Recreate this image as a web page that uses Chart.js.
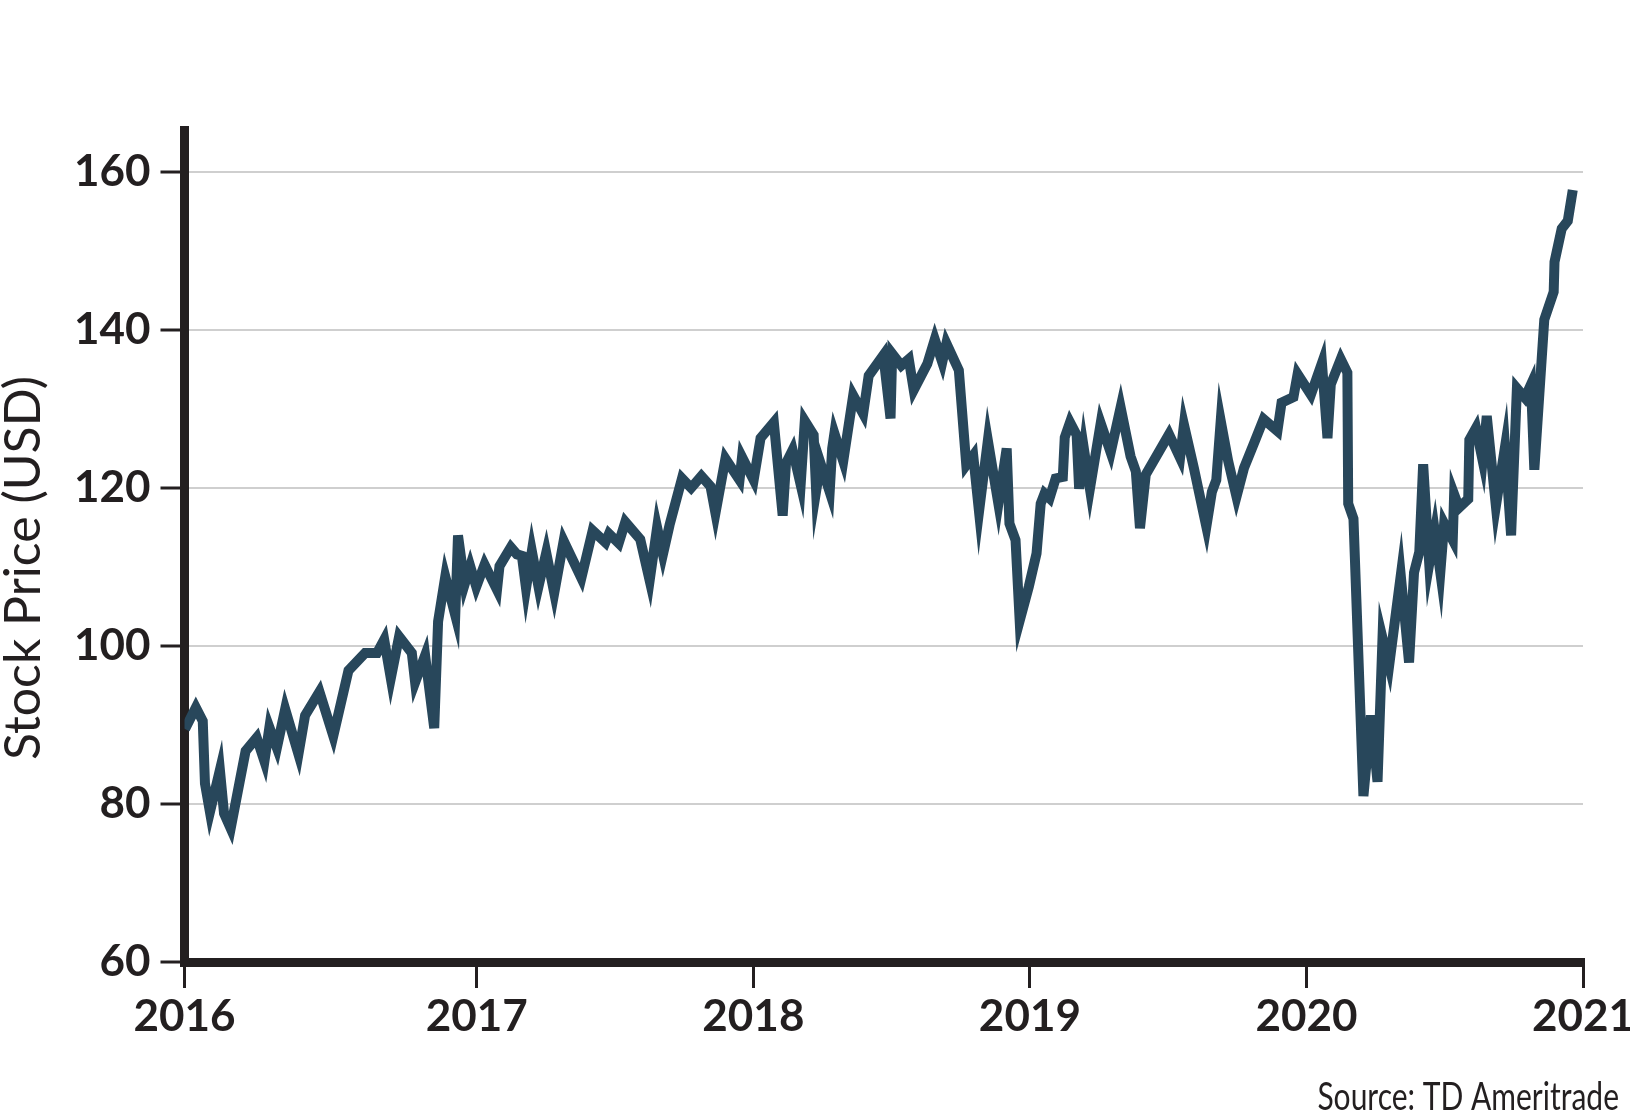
<!DOCTYPE html>
<html>
<head>
<meta charset="utf-8">
<title>Stock Price (USD)</title>
<script src="https://cdn.jsdelivr.net/npm/chart.js@4.4.1/dist/chart.umd.min.js"></script>
<style>
    html, body { margin: 0; padding: 0; background: #ffffff; }
    #wrap { position: relative; width: 1630px; height: 1114px; }
</style>
</head>
<body>
<div id="wrap"><canvas id="priceChart"></canvas></div>
<script>
/**
 * Weekly stock price, 2016 - 2020 (Source: TD Ameritrade)
 */

// Turning points of the price line (decimal years)
const weekDates = [
    2015.945, 2015.984, 2016.009, 2016.017, 2016.035, 2016.071, 2016.086, 2016.110, 2016.144, 2016.164,
    2016.204, 2016.232, 2016.250, 2016.277, 2016.307, 2016.355, 2016.379, 2016.431, 2016.481, 2016.536,
    2016.596, 2016.639, 2016.665, 2016.689, 2016.719, 2016.765, 2016.777, 2016.813, 2016.846, 2016.860,
    2016.886, 2016.922, 2016.932, 2016.956, 2016.976, 2016.998, 2017.028, 2017.073, 2017.082, 2017.123,
    2017.145, 2017.163, 2017.178, 2017.199, 2017.223, 2017.251, 2017.280, 2017.314, 2017.378, 2017.419,
    2017.465, 2017.478, 2017.513, 2017.537, 2017.591, 2017.625, 2017.652, 2017.673, 2017.697, 2017.742,
    2017.775, 2017.812, 2017.845, 2017.863, 2017.899, 2017.950, 2017.959, 2018.001, 2018.026, 2018.074,
    2018.106, 2018.118, 2018.142, 2018.171, 2018.186, 2018.218, 2018.227, 2018.243, 2018.276, 2018.285,
    2018.293, 2018.325, 2018.361, 2018.397, 2018.417, 2018.470, 2018.496, 2018.502, 2018.535, 2018.562,
    2018.580, 2018.629, 2018.656, 2018.683, 2018.698, 2018.743, 2018.770, 2018.795, 2018.816, 2018.848,
    2018.886, 2018.916, 2018.926, 2018.948, 2018.963, 2018.996, 2019.024, 2019.039, 2019.053, 2019.071,
    2019.093, 2019.119, 2019.126, 2019.145, 2019.169, 2019.178, 2019.195, 2019.217, 2019.256, 2019.292,
    2019.328, 2019.364, 2019.383, 2019.398, 2019.419, 2019.503, 2019.543, 2019.557, 2019.593, 2019.638,
    2019.658, 2019.674, 2019.690, 2019.717, 2019.747, 2019.774, 2019.813, 2019.845, 2019.895, 2019.910,
    2019.953, 2019.968, 2020.016, 2020.056, 2020.076, 2020.088, 2020.124, 2020.148, 2020.151, 2020.170,
    2020.206, 2020.233, 2020.257, 2020.275, 2020.299, 2020.341, 2020.371, 2020.389, 2020.408, 2020.422,
    2020.444, 2020.464, 2020.484, 2020.498, 2020.529, 2020.534, 2020.552, 2020.585, 2020.589, 2020.613,
    2020.637, 2020.652, 2020.685, 2020.718, 2020.740, 2020.761, 2020.790, 2020.812, 2020.824, 2020.860,
    2020.894, 2020.897, 2020.923, 2020.945, 2020.963
];

// Price in USD at each of those dates
const prices = [
    89.5, 92.2, 90.5, 82.6, 79.0, 84.3, 78.8, 76.9, 83.1, 86.7,
    88.4, 85.4, 89.7, 87.1, 92.0, 86.3, 91.2, 94.2, 88.6, 96.9,
    99.1, 99.1, 100.8, 95.9, 101.2, 99.1, 95.4, 98.8, 89.6, 103.1,
    108.8, 103.9, 114.0, 107.8, 110.1, 107.5, 110.3, 107.1, 110.1, 112.5,
    111.6, 111.4, 107.3, 112.0, 107.5, 111.8, 106.7, 113.3, 108.6, 114.6,
    113.1, 114.2, 113.0, 115.7, 113.5, 108.3, 115.0, 111.6, 115.3, 121.2,
    120.0, 121.5, 120.2, 116.8, 123.7, 121.0, 123.9, 121.0, 126.3, 128.3,
    116.5, 123.1, 124.8, 120.4, 128.5, 126.7, 119.6, 123.1, 119.5, 125.0,
    126.9, 123.4, 131.7, 129.4, 134.2, 136.8, 128.8, 137.0, 135.5, 136.3,
    132.4, 135.7, 138.8, 135.9, 138.3, 134.9, 122.9, 124.1, 117.0, 126.0,
    118.0, 125.0, 115.5, 113.4, 103.2, 107.5, 111.7, 118.0, 119.3, 118.7,
    121.2, 121.4, 126.4, 128.3, 126.7, 119.9, 125.0, 119.9, 128.2, 124.5,
    130.2, 124.0, 122.1, 114.9, 121.7, 126.8, 123.8, 128.0, 122.5, 115.1,
    119.5, 121.0, 128.5, 123.4, 118.9, 122.5, 125.9, 128.7, 127.2, 130.8,
    131.5, 134.4, 131.8, 135.8, 126.3, 133.1, 136.3, 134.6, 118.0, 116.1,
    81.0, 91.2, 82.8, 101.0, 97.5, 108.9, 97.9, 109.3, 111.9, 123.0,
    110.4, 114.5, 109.3, 115.5, 113.4, 119.2, 117.5, 118.6, 126.1, 127.6,
    123.5, 129.1, 117.7, 125.2, 114.0, 132.6, 131.4, 133.1, 122.3, 141.3,
    144.8, 148.6, 152.8, 153.8, 157.7
];

// Axis ticks (the first year tick sits at the start of the series)
const yearTicks = [2015.943, 2017, 2018, 2019, 2020, 2021];
const yearLabels = ['2016', '2017', '2018', '2019', '2020', '2021'];
const priceTicks = [60, 80, 100, 120, 140, 160];
const priceMin = 60;
const priceMax = 165.3;

const INK = '#231f20';
const LINE = '#28475b';
const GRID = '#cfcfcf';

/**
 * Rotated y axis title, drawn after the chart
 */
const yTitlePlugin = {
    id: 'yTitle',
    afterDraw(chart) {
        const ctx = chart.ctx;
        ctx.save();
        ctx.translate(40, 568);
        ctx.rotate(-Math.PI / 2);
        ctx.font = '50px Lato';
        ctx.fillStyle = INK;
        ctx.textAlign = 'center';
        ctx.textBaseline = 'alphabetic';
        ctx.fillText('Stock Price (USD)', 0, 0);
        ctx.restore();
    }
};

/**
 * Source note, bottom right corner
 */
const sourcePlugin = {
    id: 'sourceNote',
    afterDraw(chart) {
        const ctx = chart.ctx;
        ctx.save();
        ctx.translate(1619, 1110);
        ctx.scale(0.79, 1);
        ctx.font = '38px Lato';
        ctx.fillStyle = INK;
        ctx.textAlign = 'right';
        ctx.textBaseline = 'alphabetic';
        ctx.fillText('Source: TD Ameritrade', 0, 0);
        ctx.restore();
    }
};

/**
 * Initialize the price chart
 * @param {string} canvasId - Canvas element ID
 * @returns {Object} Chart instance
 */
function initPriceChart(canvasId) {
    const ctx = document.getElementById(canvasId).getContext('2d');
    const points = weekDates.map((d, i) => ({ x: d, y: prices[i] }));

    return new Chart(ctx, {
        type: 'line',
        data: {
            datasets: [{
                label: 'Stock Price (USD)',
                data: points,
                borderColor: LINE,
                borderWidth: 10,
                borderJoinStyle: 'miter',
                borderCapStyle: 'butt',
                pointRadius: 0,
                tension: 0,
                fill: false
            }]
        },
        options: {
            responsive: true,
            maintainAspectRatio: false,
            animation: false,
            layout: {
                padding: { left: 0, top: 130, right: 47, bottom: 0 }
            },
            scales: {
                x: {
                    type: 'linear',
                    min: yearTicks[0],
                    max: yearTicks[yearTicks.length - 1],
                    afterBuildTicks: function(scale) {
                        scale.ticks = yearTicks.map(v => ({ value: v }));
                    },
                    afterFit: function(scale) {
                        scale.height = 152;
                        scale.paddingLeft = 0;
                        scale.paddingRight = 0;
                    },
                    grid: {
                        drawOnChartArea: false,
                        tickLength: 26,
                        tickWidth: 3,
                        tickColor: INK,
                        lineWidth: 3
                    },
                    border: {
                        color: INK,
                        width: 9
                    },
                    ticks: {
                        autoSkip: false,
                        maxRotation: 0,
                        padding: 2,
                        color: INK,
                        font: {
                            family: 'Lato',
                            weight: 'bold',
                            size: 44
                        },
                        callback: function(value, index) {
                            return yearLabels[index];
                        }
                    }
                },
                y: {
                    min: priceMin,
                    max: priceMax,
                    afterBuildTicks: function(scale) {
                        scale.ticks = priceTicks.map(v => ({ value: v }));
                    },
                    afterFit: function(scale) {
                        scale.width = 184.5;
                    },
                    grid: {
                        color: GRID,
                        lineWidth: 2,
                        tickLength: 24,
                        tickWidth: 3,
                        tickColor: INK
                    },
                    border: {
                        color: INK,
                        width: 9
                    },
                    ticks: {
                        padding: 10,
                        color: INK,
                        font: {
                            family: 'Lato',
                            weight: 'bold',
                            size: 44
                        }
                    }
                }
            },
            plugins: {
                legend: {
                    display: false
                },
                tooltip: {
                    enabled: false
                }
            }
        },
        plugins: [yTitlePlugin, sourcePlugin]
    });
}

initPriceChart('priceChart');
</script>
</body>
</html>
